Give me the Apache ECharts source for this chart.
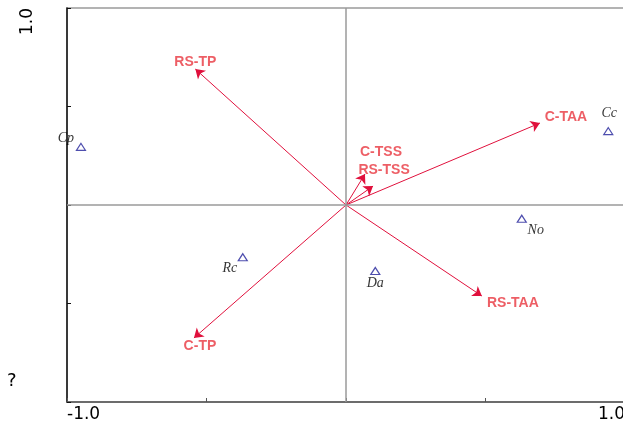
<!DOCTYPE html>
<html>
<head>
<meta charset="utf-8">
<script src="https://cdn.jsdelivr.net/npm/echarts@6/dist/echarts.min.js"></script>
<style>
  html, body { margin: 0; padding: 0; background: #fff; }
  #rda { width: 623px; height: 428px; }
</style>
</head>
<body>
<div id="rda"></div>
<script>
// 样点 (sites)
var siteNames = ["Cp", "Cc", "No", "Rc", "Da"];
var siteX = [-0.95, 0.94, 0.63, -0.37, 0.105];
var siteY = [0.295, 0.375, -0.07, -0.265, -0.335];

// 环境因子箭头 (arrows from origin)
var envNames = ["RS-TP", "C-TSS", "RS-TSS", "C-TAA", "RS-TAA", "C-TP"];
var envX = [-0.54, 0.068, 0.097, 0.695, 0.487, -0.545];
var envY = [0.69, 0.157, 0.096, 0.416, -0.462, -0.675];

var axisMin = -1.0, axisMax = 1.0, axisStep = 0.5;

// label offsets (px), kept apart from the data
var siteLabelOffset = { Cp: [-15, -9], Cc: [1, -18], No: [14, 12], Rc: [-13, 11], Da: [0, 12] };
var envLabelOffset = {
  "RS-TP": [0, -7], "C-TSS": [16, -22], "RS-TSS": [11, -16],
  "C-TAA": [26, -6], "RS-TAA": [31, 7], "C-TP": [6, 8]
};

var chartObj = echarts.init(document.getElementById("rda"));

var sitePts = siteNames.map(function (n, i) {
  return {
    value: [siteX[i], siteY[i]],
    name: n,
    label: { offset: siteLabelOffset[n] }
  };
});

var arrowLines = envNames.map(function (n, i) {
  return { coords: [[0, 0], [envX[i], envY[i]]] };
});

var envTips = envNames.map(function (n, i) {
  return {
    value: [envX[i], envY[i]],
    name: n,
    label: { offset: envLabelOffset[n] }
  };
});

function endLabel(v) {
  if (Math.abs(v - axisMin) < 1e-6 || Math.abs(v - axisMax) < 1e-6) return v.toFixed(1);
  return "";
}

var option = {
  animation: false,
  grid: {
    left: 67, top: 8, width: 558, height: 394,
    outerBoundsMode: "none",
    show: true, borderColor: "#9a9a9a", borderWidth: 1.5,
    containLabel: false
  },
  xAxis: {
    type: "value",
    min: axisMin, max: axisMax, interval: axisStep,
    splitLine: { show: false },
    axisLine: { onZero: false, lineStyle: { color: "#555", width: 1.5 } },
    axisTick: { inside: true, length: 4, lineStyle: { color: "#555" } },
    axisLabel: {
      formatter: endLabel,
      color: "#000",
      fontFamily: "DejaVu Sans",
      fontSize: 17,
      margin: 4,
      alignMinLabel: "left",
      alignMaxLabel: "right"
    }
  },
  yAxis: {
    type: "value",
    min: axisMin, max: axisMax, interval: axisStep,
    splitLine: { show: false },
    axisLine: { onZero: false, lineStyle: { color: "#111", width: 1.5 } },
    axisTick: { inside: true, length: 4, lineStyle: { color: "#111" } },
    axisLabel: {
      formatter: function (v) { return Math.abs(v - axisMax) < 1e-6 ? v.toFixed(1) : ""; },
      color: "#000",
      fontFamily: "DejaVu Sans",
      fontSize: 17,
      rotate: 90,
      margin: 31,
      alignMaxLabel: "right"
    }
  },
  graphic: [{
    type: "text",
    x: 7, y: 372,
    style: { text: "?", fill: "#000", font: "18px DejaVu Sans" }
  }],
  series: [
    {
      type: "lines",
      coordinateSystem: "cartesian2d",
      polyline: false,
      symbol: ["none", "arrow"],
      symbolSize: 9,
      lineStyle: { color: "#e0103c", width: 1, opacity: 1 },
      data: arrowLines,
      z: 3
    },
    {
      type: "scatter",
      symbolSize: 0,
      data: envTips,
      label: {
        show: true,
        position: "inside",
        formatter: "{b}",
        color: "#e8363e",
        fontFamily: "Liberation Sans",
        fontWeight: "bold",
        fontSize: 14
      },
      z: 4
    },
    {
      type: "scatter",
      symbol: "triangle",
      symbolSize: [9, 7],
      itemStyle: { color: "#fff", borderColor: "#22229a", borderWidth: 1.2 },
      data: sitePts,
      label: {
        show: true,
        position: "inside",
        formatter: "{b}",
        color: "#000",
        fontFamily: "Liberation Serif",
        fontStyle: "italic",
        fontSize: 14
      },
      markLine: {
        silent: true,
        symbol: "none",
        label: { show: false },
        lineStyle: { color: "#9a9a9a", width: 1.5, type: "solid" },
        data: [{ xAxis: 0 }, { yAxis: 0 }]
      },
      z: 5
    }
  ]
};

chartObj.setOption(option, true);
window.addEventListener("resize", function () { chartObj.resize(); });
</script>
</body>
</html>
